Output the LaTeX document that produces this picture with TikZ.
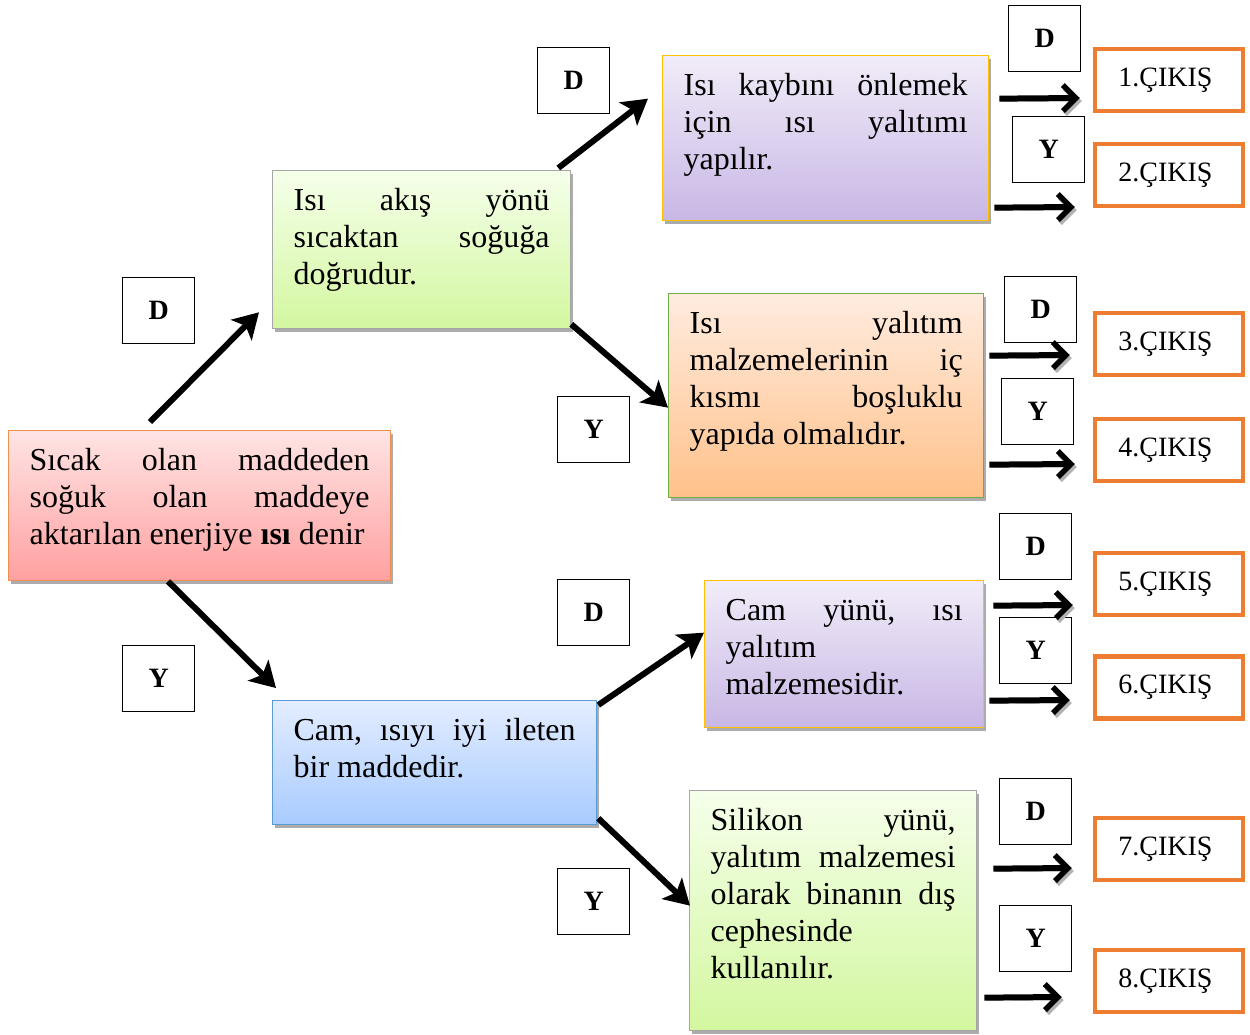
\documentclass[tikz,border=0pt]{standalone}
\usepackage{fontspec}
\setmainfont{Liberation Serif}
\usetikzlibrary{arrows.meta,shadows,calc}
\definecolor{borange}{HTML}{ED7D31}
\definecolor{bgold}{HTML}{FFC000}
\definecolor{bgreen}{HTML}{70AD47}
\definecolor{bblue}{HTML}{5B9BD5}
\definecolor{bgray}{HTML}{A6A6A6}
\definecolor{aTop}{HTML}{FFE4E4}\definecolor{aBot}{HTML}{FFA0A0}
\definecolor{gTop}{HTML}{F5FFEA}\definecolor{gBot}{HTML}{D3F7A0}
\definecolor{cTop}{HTML}{E3EDFF}\definecolor{cBot}{HTML}{A8CBFF}
\definecolor{pTop}{HTML}{F1ECF8}\definecolor{pBot}{HTML}{C8B7E5}
\definecolor{oTop}{HTML}{FFECDF}\definecolor{oBot}{HTML}{FFC18A}
\newcommand\btxt[3]{\parbox[c][#2pt][t]{#1pt}{\rule{0pt}{40pt}#3}}
\tikzset{
  cbox/.style={draw, line width=1.3pt, anchor=north west, inner xsep=21pt, inner ysep=0pt,
    font=\fontsize{32pt}{37pt}\selectfont,
    drop shadow={shadow xshift=2.5pt, shadow yshift=-3pt, fill=gray!65, opacity=1}},
  lblbox/.style={draw, line width=1.3pt, anchor=north west, minimum width=72pt, minimum height=66pt,
    inner sep=0pt, font=\fontsize{28pt}{32pt}\selectfont\bfseries, fill=white},
  outbox/.style={draw=borange, line width=4.5pt, minimum width=148pt, minimum height=62pt,
    inner sep=0pt, font=\fontsize{28pt}{32pt}\selectfont, fill=white},
  darr/.style={line width=6pt, -{Stealth[length=25pt,width=29pt,inset=6pt]}},
  harr/.style={line width=6pt, -{Straight Barb[length=13pt,width=26pt,line width=5.5pt]},
    preaction={draw=gray!60, transform canvas={shift={(2pt,-3pt)}}}}
}
\begin{document}
\begin{tikzpicture}[x=1pt,y=-1pt]
\useasboundingbox (0,0) rectangle (1250,1035);
% main boxes
\node[cbox, draw=borange!85!white, top color=aTop, bottom color=aBot] (nA) at (8,430)
  {\btxt{340}{150}{Sıcak\hfill olan\hfill maddeden\\ soğuk\hfill olan\hfill maddeye\\ aktarılan enerjiye \textbf{ısı} denir}};
\node[cbox, draw=bgray, top color=gTop, bottom color=gBot] (nB) at (272,170)
  {\btxt{256}{158}{Isı\hfill akış\hfill yönü\\ sıcaktan\hfill soğuğa\\ doğrudur.}};
\node[cbox, draw=bblue, top color=cTop, bottom color=cBot] (nC) at (272,700)
  {\btxt{282}{124}{Cam,\hfill ısıyı\hfill iyi\hfill ileten\\ bir maddedir.}};
\node[cbox, draw=bgold, top color=pTop, bottom color=pBot] (nD) at (662,55)
  {\btxt{284}{165}{Isı\hfill kaybını\hfill önlemek\\ için\hfill ısı\hfill yalıtımı\\ yapılır.}};
\node[cbox, draw=bgreen, top color=oTop, bottom color=oBot] (nE) at (668,293)
  {\btxt{273}{204}{Isı\hfill yalıtım\\ malzemelerinin\hfill iç\\ kısmı\hfill boşluklu\\ yapıda olmalıdır.}};
\node[cbox, draw=bgold, top color=pTop, bottom color=pBot] (nF) at (704,580)
  {\btxt{237}{147}{Cam\hfill yünü,\hfill ısı\\ yalıtım\\ malzemesidir.}};
\node[cbox, draw=bgray, top color=gTop, bottom color=gBot] (nG) at (689,790)
  {\btxt{245}{240}{Silikon\hfill yünü,\\ yalıtım\hfill malzemesi\\ olarak\hfill binanın\hfill dış\\ cephesinde\\ kullanılır.}};
% label boxes
\node[lblbox] (l1) at (122,277) {D};
\node[lblbox] (l2) at (122,645) {Y};
\node[lblbox] (l3) at (537,47) {D};
\node[lblbox] (l4) at (557,396) {Y};
\node[lblbox] (l5) at (557,579) {D};
\node[lblbox] (l6) at (557,868) {Y};
\node[lblbox] (r1) at (1008,5) {D};
\node[lblbox] (r2) at (1012,116) {Y};
\node[lblbox] (r3) at (1004,276) {D};
\node[lblbox] (r4) at (1001,378) {Y};
\node[lblbox] (r5) at (999,513) {D};
\node[lblbox] (r6) at (999,617) {Y};
\node[lblbox] (r7) at (999,778) {D};
\node[lblbox] (r8) at (999,905) {Y};
% outputs
\node[outbox] (o1) at (1169,80) {\hspace*{-7pt}1.ÇIKIŞ};
\node[outbox] (o2) at (1169,175) {\hspace*{-7pt}2.ÇIKIŞ};
\node[outbox] (o3) at (1169,344) {\hspace*{-7pt}3.ÇIKIŞ};
\node[outbox] (o4) at (1169,450) {\hspace*{-7pt}4.ÇIKIŞ};
\node[outbox] (o5) at (1169,584) {\hspace*{-7pt}5.ÇIKIŞ};
\node[outbox] (o6) at (1169,687.5) {\hspace*{-7pt}6.ÇIKIŞ};
\node[outbox] (o7) at (1169,849) {\hspace*{-7pt}7.ÇIKIŞ};
\node[outbox] (o8) at (1169,981) {\hspace*{-7pt}8.ÇIKIŞ};
% diagonal arrows
\draw[darr] ($(nA.north west)+(142,-8)$) -- ($(nB.south west)+(-13,-17)$);
\draw[darr] ($(nA.south west)+(160,0)$) -- ($(nC.north west)+(4,-12)$);
\draw[darr] ($(nB.north east)+(-13,-2)$) -- ($(nD.west)+(-14,-39.5)$);
\draw[darr] ($(nB.south east)+(0,-5)$) -- ($(nE.west)+(0,12)$);
\draw[darr] ($(nC.north east)+(1,5)$) -- ($(nF.west)+(0,-21.5)$);
\draw[darr] ($(nC.south east)+(1,-7)$) -- ($(nG.west)+(1,-5)$);
% horizontal arrows
\draw[harr] ($(nD.east)+(10,-39.5)$) -- ($(o1.west)+(-13,18)$);
\draw[harr] ($(nD.east)+(5,69.5)$) -- ($(o2.west)+(-18,32)$);
\draw[harr] ($(nE.east)+(5,-40)$) -- ($(o3.west)+(-23,11)$);
\draw[harr] ($(nE.east)+(5,69)$) -- ($(o4.west)+(-18,14)$);
\draw[harr] ($(nF.east)+(9,-48.5)$) -- ($(o5.west)+(-20,21)$);
\draw[harr] ($(nF.east)+(5,46.5)$) -- ($(o6.west)+(-23,12.5)$);
\draw[harr] ($(nG.east)+(16,-42)$) -- ($(o7.west)+(-21,19)$);
\draw[harr] ($(nG.east)+(7,87)$) -- ($(o8.west)+(-31,16)$);
\end{tikzpicture}
\end{document}
